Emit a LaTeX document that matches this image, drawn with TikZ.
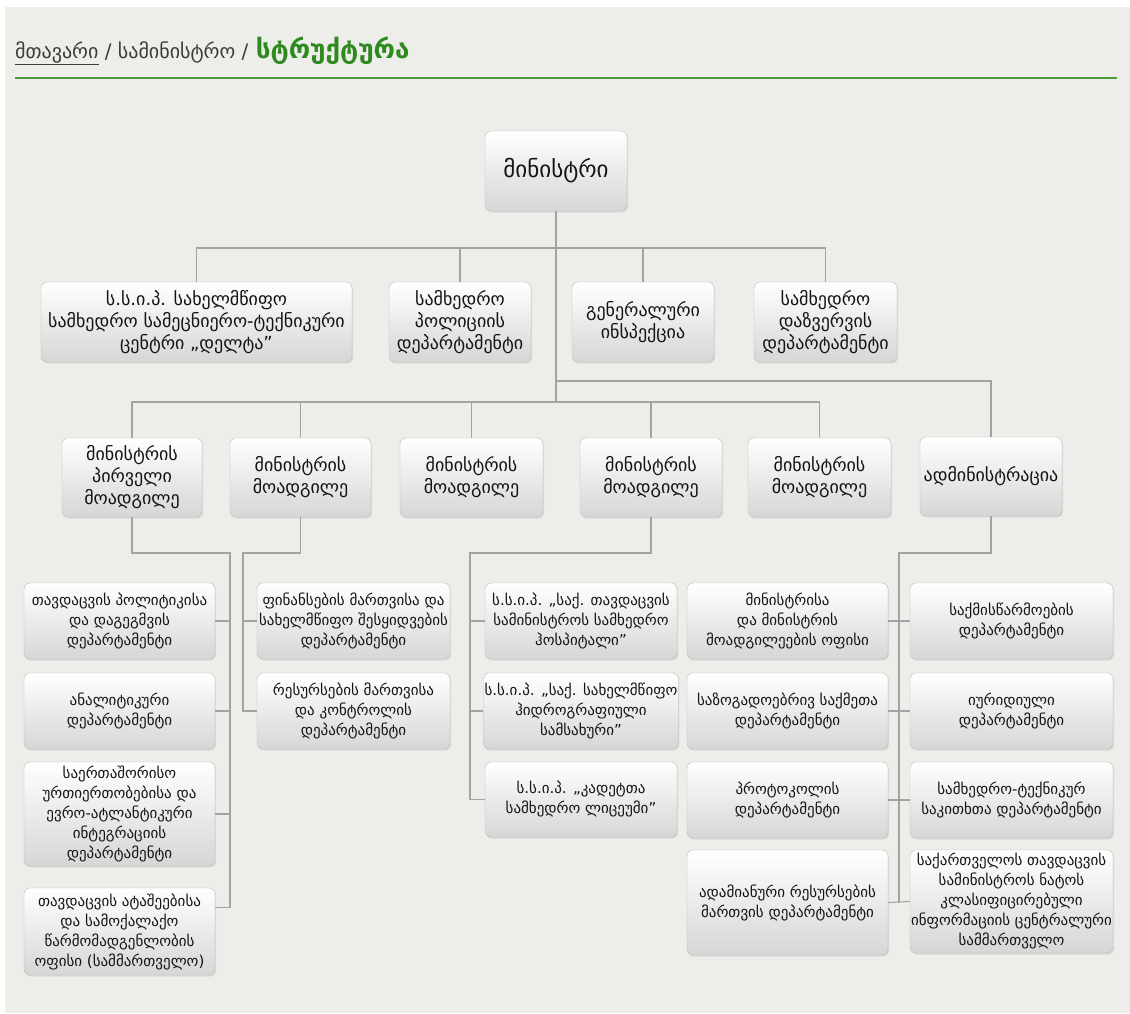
\documentclass[tikz,border=0pt]{standalone}
\usepackage{fontspec}
\usepackage{tikz}
\usetikzlibrary{shadows}
\newfontfamily\geo{DejaVu Sans}
\definecolor{pagebg}{HTML}{EDEEE9}
\definecolor{crumbgray}{HTML}{3C3C3C}
\definecolor{crumbgreen}{HTML}{2E8A1E}
\definecolor{rulegreen}{HTML}{4C9A3C}
\definecolor{linkgray}{HTML}{A3A3A3}
\definecolor{boxline}{HTML}{BCBCBC}
\definecolor{boxbottom}{HTML}{D6D6D6}

\tikzset{
  unitbox/.style={draw=boxline, rounded corners=6pt, top color=white, bottom color=boxbottom,
    text=black!92, align=center, inner sep=1pt,
    drop shadow={opacity=0.18, shadow xshift=1pt, shadow yshift=-1.5pt}},
  headbox/.style={unitbox, font=\geo\fontsize{18}{22}\selectfont},
  deptbox/.style={unitbox, font=\geo\fontsize{15}{20}\selectfont},
  link/.style={draw=linkgray, line width=1.1pt},
}

\begin{document}
\begin{tikzpicture}[x=1pt,y=-1pt]
  % page
  \useasboundingbox (0,0) rectangle (1130,1013);
  \fill[white] (0,0) rectangle (1130,1013);
  \fill[pagebg] (5,7) rectangle (1130,1013);

  % breadcrumb
  \node[anchor=base west, inner sep=0, text=crumbgray, font=\geo\fontsize{20}{22}\selectfont]
    (crumb) at (15,58) {\underline{მთავარი} / სამინისტრო /};
  \node[anchor=base west, inner sep=0, text=crumbgreen, font=\geo\bfseries\fontsize{26}{28}\selectfont]
    (here) at ([xshift=7pt]crumb.base east) {სტრუქტურა};
  \draw[rulegreen, line width=2.5pt] (15,78) -- (1117,78);

  % minister
  \node[headbox, minimum width=142, minimum height=80, font=\geo\fontsize{23}{26}\selectfont]
    (min) at (556,171) {მინისტრი};

  % first row
  \node[headbox, minimum width=311, minimum height=80] (A) at (196.5,322)
    {ს.ს.ი.პ. სახელმწიფო\\სამხედრო სამეცნიერო-ტექნიკური\\ცენტრი „დელტა”};
  \node[headbox, minimum width=142, minimum height=80] (B) at (460,322)
    {სამხედრო\\პოლიციის\\დეპარტამენტი};
  \node[headbox, minimum width=142, minimum height=80] (C) at (643,322)
    {გენერალური\\ინსპექცია};
  \node[headbox, minimum width=143, minimum height=80] (D) at (825.5,322)
    {სამხედრო\\დაზვერვის\\დეპარტამენტი};

  % deputies
  \node[headbox, minimum width=140, minimum height=79] (b1) at (132,477.5)
    {მინისტრის\\პირველი\\მოადგილე};
  \node[headbox, minimum width=141, minimum height=79] (b2) at (300.5,477.5)
    {მინისტრის\\მოადგილე};
  \node[headbox, minimum width=143, minimum height=79] (b3) at (471.5,477.5)
    {მინისტრის\\მოადგილე};
  \node[headbox, minimum width=142, minimum height=79] (b4) at (651,477.5)
    {მინისტრის\\მოადგილე};
  \node[headbox, minimum width=143, minimum height=79] (b5) at (819.5,477.5)
    {მინისტრის\\მოადგილე};
  \node[headbox, minimum width=142, minimum height=79] (admin) at (991,476.5)
    {ადმინისტრაცია};

  % first deputy units
  \node[deptbox, minimum width=191, minimum height=76] (L1) at (119.5,621)
    {თავდაცვის პოლიტიკისა\\და დაგეგმვის\\დეპარტამენტი};
  \node[deptbox, minimum width=191, minimum height=76] (L2) at (119.5,711)
    {ანალიტიკური\\დეპარტამენტი};
  \node[deptbox, minimum width=191, minimum height=104] (L3) at (119.5,814)
    {საერთაშორისო\\ურთიერთობებისა და\\ევრო-ატლანტიკური\\ინტეგრაციის\\დეპარტამენტი};
  \node[deptbox, minimum width=191, minimum height=87] (L4) at (119.5,931.5)
    {თავდაცვის ატაშეებისა\\და სამოქალაქო\\წარმომადგენლობის\\ოფისი (სამმართველო)};

  % deputy units
  \node[deptbox, minimum width=193, minimum height=76] (F1) at (353.5,621)
    {ფინანსების მართვისა და\\სახელმწიფო შესყიდვების\\დეპარტამენტი};
  \node[deptbox, minimum width=193, minimum height=76] (F2) at (353.5,711)
    {რესურსების მართვისა\\და კონტროლის\\დეპარტამენტი};
  \node[deptbox, minimum width=192, minimum height=76] (H1) at (581,621)
    {ს.ს.ი.პ. „საქ. თავდაცვის\\სამინისტროს სამხედრო\\ჰოსპიტალი”};
  \node[deptbox, minimum width=192, minimum height=76] (H2) at (581,711)
    {ს.ს.ი.პ. „საქ. სახელმწიფო\\ჰიდროგრაფიული\\სამსახური”};
  \node[deptbox, minimum width=192, minimum height=75] (H3) at (581,799.5)
    {ს.ს.ი.პ. „კადეტთა\\სამხედრო ლიცეუმი”};

  % administration units
  \node[deptbox, minimum width=201, minimum height=76] (M1) at (787.5,621)
    {მინისტრისა\\და მინისტრის\\მოადგილეების ოფისი};
  \node[deptbox, minimum width=201, minimum height=76] (M2) at (787.5,711)
    {საზოგადოებრივ საქმეთა\\დეპარტამენტი};
  \node[deptbox, minimum width=201, minimum height=76] (M3) at (787.5,800)
    {პროტოკოლის\\დეპარტამენტი};
  \node[deptbox, minimum width=201, minimum height=105] (M4) at (787.5,902.5)
    {ადამიანური რესურსების\\მართვის დეპარტამენტი};
  \node[deptbox, minimum width=203, minimum height=76] (S1) at (1011.5,621)
    {საქმისწარმოების\\დეპარტამენტი};
  \node[deptbox, minimum width=203, minimum height=76] (S2) at (1011.5,711)
    {იურიდიული\\დეპარტამენტი};
  \node[deptbox, minimum width=203, minimum height=76] (S3) at (1011.5,800)
    {სამხედრო-ტექნიკურ\\საკითხთა დეპარტამენტი};
  \node[deptbox, minimum width=203, minimum height=103] (S4) at (1011.5,901.5)
    {საქართველოს თავდაცვის\\სამინისტროს ნატოს\\კლასიფიცირებული\\ინფორმაციის ცენტრალური\\სამმართველო};

  % buses
  \coordinate (bus1) at (0,248);
  \coordinate (admbus) at (0,381);
  \coordinate (bus2) at (0,402);
  \coordinate (lowbus) at (0,553);
  \coordinate (ltrunk) at (230,0);
  \coordinate (ftrunk) at (243,0);
  \coordinate (htrunk) at (470,0);
  \coordinate (rtrunk) at (899,0);
  \coordinate (L4tap) at ([yshift=24pt]L4.east);

  % minister links
  \draw[link] (min.south) -- (min.south |- bus2);
  \draw[link] (A.north) -- (A.north |- bus1) -- (D.north |- bus1) -- (D.north);
  \foreach \n in {B,C}
    \draw[link] (\n.north) -- (\n.north |- bus1);
  \draw[link] (b1.north) -- (b1.north |- bus2) -- (b5.north |- bus2) -- (b5.north);
  \foreach \n in {b2,b3,b4}
    \draw[link] (\n.north) -- (\n.north |- bus2);
  \draw[link] (min.south |- admbus) -- (admin.north |- admbus) -- (admin.north);

  % first deputy links
  \draw[link] (b1.south) -- (b1.south |- lowbus) -- (ltrunk |- lowbus) -- (L4tap -| ltrunk) -- (L4tap);
  \foreach \n in {L1,L2,L3}
    \draw[link] (\n.east) -- (ltrunk |- \n.east);

  % deputy links
  \draw[link] (b2.south) -- (b2.south |- lowbus) -- (ftrunk |- lowbus) -- (ftrunk |- F2.west) -- (F2.west);
  \draw[link] (ftrunk |- F1.west) -- (F1.west);
  \draw[link] (b4.south) -- (b4.south |- lowbus) -- (htrunk |- lowbus) -- (htrunk |- H3.west) -- (H3.west);
  \foreach \n in {H1,H2}
    \draw[link] (htrunk |- \n.west) -- (\n.west);

  % administration links
  \draw[link] (admin.south) -- (admin.south |- lowbus) -- (rtrunk |- lowbus) -- (rtrunk |- M4.east);
  \foreach \n/\m in {M1/S1,M2/S2,M3/S3,M4/S4}
    \draw[link] (\n.east) -- (\m.west);
\end{tikzpicture}
\end{document}
